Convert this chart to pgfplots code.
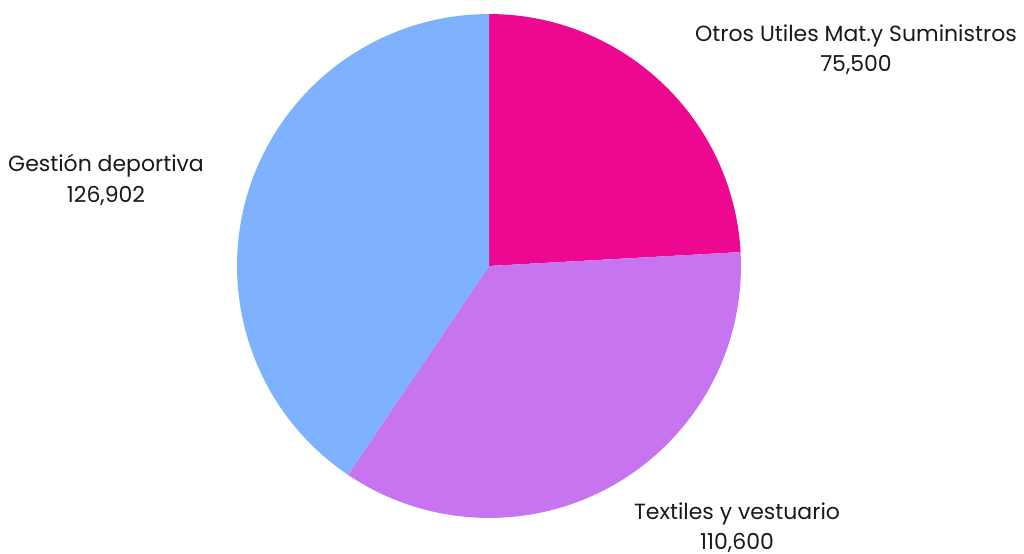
\documentclass[border=0pt]{standalone}
\usepackage{fontspec}
\setmainfont{Poppins}
\usepackage{pgfplots}
\usepackage{pgfplotstable}
\pgfplotsset{compat=1.18}

\definecolor{pinkc}{HTML}{EC0890}
\definecolor{purpc}{HTML}{C774F0}
\definecolor{bluec}{HTML}{7EB2FF}

% slices clockwise from 12 o'clock
\pgfplotstableread[col sep=comma]{
label,value
Otros Utiles Mat.y Suministros,75500
Textiles y vestuario,110600
Gestión deportiva,126902
}\piedata

\begin{document}
\begin{tikzpicture}
\pgfplotstablegetelem{0}{value}\of\piedata \let\va\pgfplotsretval
\pgfplotstablegetelem{1}{value}\of\piedata \let\vb\pgfplotsretval
\pgfplotstablegetelem{2}{value}\of\piedata \let\vc\pgfplotsretval
\edef\aA{\fpeval{round(90-360*\va/(\va+\vb+\vc),3)}}
\edef\aB{\fpeval{round(\aA-360*\vb/(\va+\vb+\vc),3)}}
\edef\aC{-270}
\def\R{5.04cm}
\tikzset{lbl/.style={font=\fontsize{12.5}{17.2}\selectfont, text=black!90, align=center, inner sep=0pt}}
\begin{axis}[
    x=0.02cm, y=0.02cm,
    xmin=0, xmax=1024, ymin=0, ymax=554,
    hide axis, clip=false,
]
\addplot[draw=none] coordinates {(0,0) (1024,554)};
\fill[pinkc] (axis cs:489,288) -- ++(90:\R) arc[start angle=90, end angle=\aA, radius=\R] -- cycle;
\fill[purpc] (axis cs:489,288) -- ++(\aA:\R) arc[start angle=\aA, end angle=\aB, radius=\R] -- cycle;
\fill[bluec] (axis cs:489,288) -- ++(\aB:\R) arc[start angle=\aB, end angle=\aC, radius=\R] -- cycle;
\node[lbl] at (axis cs:856,504) {Otros Utiles Mat.y Suministros\\75,500};
\node[lbl] at (axis cs:106,374) {Gestión deportiva\\126,902};
\node[lbl] at (axis cs:737,26) {Textiles y vestuario\\110,600};
\end{axis}
\end{tikzpicture}
\end{document}
